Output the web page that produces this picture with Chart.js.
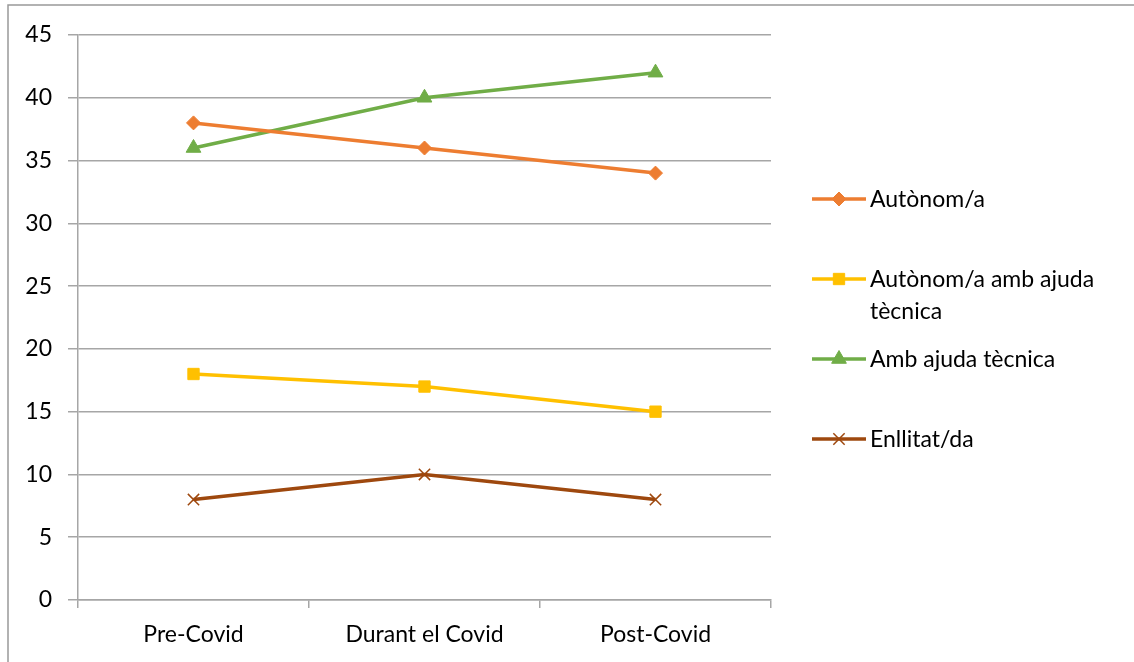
<!DOCTYPE html>
<html>
<head>
<meta charset="utf-8">
<script src="https://cdn.jsdelivr.net/npm/chart.js@4"></script>
<style>
  html, body { margin: 0; padding: 0; background: #fff; }
  #wrap { width: 1134px; height: 662px; position: relative; }
</style>
</head>
<body>
<div id="wrap"><canvas id="chart"></canvas></div>
<script>
// categories and series
const periods = ['Pre-Covid', 'Durant el Covid', 'Post-Covid'];
const autonom = [38, 36, 34];
const autonomAjuda = [18, 17, 15];
const ambAjuda = [36, 40, 42];
const enllitat = [8, 10, 8];

const FONT = 'Lato, "Open Sans", sans-serif';
const gridColor = '#A6A6A6';

// frame round the whole chart, like the spreadsheet export
const frame = {
    id: 'frame',
    beforeDraw(chart) {
        const c = chart.ctx;
        c.save();
        c.strokeStyle = '#999';
        c.lineWidth = 1.5;
        c.strokeRect(8, 5, chart.width + 20, chart.height + 20);
        c.restore();
    }
};

// legend on the right, drawn by hand so long labels wrap like the original
const sideLegend = {
    id: 'sideLegend',
    afterDraw(chart) {
        const c = chart.ctx;
        const rows = [199, 279, 359, 439];
        c.save();
        c.font = '23px ' + FONT;
        c.textBaseline = 'middle';
        chart.data.datasets.forEach((ds, i) => {
            const y = rows[i];
            c.strokeStyle = ds.borderColor;
            c.lineWidth = 3.5;
            c.beginPath();
            c.moveTo(812, y);
            c.lineTo(866, y);
            c.stroke();
            c.fillStyle = ds.pointBackgroundColor;
            c.strokeStyle = ds.pointBorderColor;
            c.lineWidth = ds.pointBorderWidth;
            Chart.helpers.drawPoint(c, {
                pointStyle: ds.pointStyle,
                radius: ds.pointRadius,
                borderWidth: ds.pointBorderWidth
            }, 839, y);
            // wrap words
            const words = ds.label.split(' ');
            const lines = [];
            let cur = '';
            words.forEach(w => {
                const t = cur ? cur + ' ' + w : w;
                if (c.measureText(t).width > 255 && cur) { lines.push(cur); cur = w; }
                else cur = t;
            });
            lines.push(cur);
            c.fillStyle = '#000';
            lines.forEach((l, k) => c.fillText(l, 870, y + 1 + k * 32));
        });
        c.restore();
    }
};

function series(label, data, color, style, radius, border) {
    return {
        label: label,
        data: data,
        borderColor: color,
        backgroundColor: color,
        borderWidth: 3.5,
        pointStyle: style,
        pointRadius: radius,
        pointHoverRadius: radius,
        pointBackgroundColor: color,
        pointBorderColor: color,
        pointBorderWidth: border,
        tension: 0
    };
}

new Chart(document.getElementById('chart'), {
    type: 'line',
    data: {
        labels: periods,
        datasets: [
            series('Autònom/a', autonom, '#ED7D31', 'rectRot', 7, 1),
            series('Autònom/a amb ajuda tècnica', autonomAjuda, '#FFC000', 'rect', 8, 1),
            series('Amb ajuda tècnica', ambAjuda, '#70AD47', 'triangle', 8.5, 1),
            series('Enllitat/da', enllitat, '#9E480E', 'crossRot', 8, 1.5)
        ]
    },
    options: {
        responsive: true,
        maintainAspectRatio: false,
        animation: false,
        layout: { padding: { top: 35, right: 363, bottom: 0, left: 0 } },
        plugins: {
            legend: { display: false },
            tooltip: { enabled: false }
        },
        scales: {
            x: {
                offset: true,
                grid: {
                    offset: true,
                    drawOnChartArea: false,
                    drawTicks: true,
                    tickLength: 8,
                    color: gridColor,
                    lineWidth: 1.5
                },
                border: { color: gridColor, width: 1.5 },
                ticks: {
                    color: '#000',
                    font: { family: FONT, size: 23 },
                    padding: 13,
                    maxRotation: 0
                },
                afterFit(scale) { scale.height = 62; }
            },
            y: {
                min: 0,
                max: 45,
                ticks: {
                    stepSize: 5,
                    color: '#000',
                    font: { family: FONT, size: 23 },
                    padding: 16
                },
                grid: {
                    color: gridColor,
                    lineWidth: 1.5,
                    drawTicks: true,
                    tickLength: 10
                },
                border: { color: gridColor, width: 1.5 },
                afterFit(scale) { scale.width = 78; }
            }
        }
    },
    plugins: [frame, sideLegend]
});
</script>
</body>
</html>
